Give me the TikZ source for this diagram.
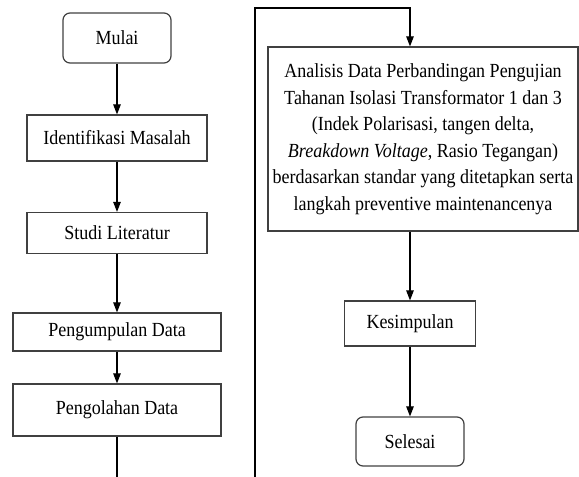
\documentclass[tikz,border=0pt]{standalone}
\usepackage{fontspec}
\setmainfont{Liberation Serif}[FakeStretch=0.9]
\usetikzlibrary{arrows.meta}
\begin{document}
\begin{tikzpicture}[x=1pt,y=1pt,
  box/.style={draw=black!75, line width=1.2pt, minimum width=#1, inner sep=0pt, font=\fontsize{20}{26.5}\selectfont, align=center},
  term/.style={box=#1, rounded corners=7pt},
  conn/.style={line width=1.1pt, -{Triangle[length=10pt,width=7.5pt]}},
  line/.style={line width=1.1pt}]
\useasboundingbox (0,0) rectangle (579,-477);
\node[term=108pt, minimum height=50pt] (mulai) at (117,-38) {Mulai};
\node[box=180pt, minimum height=46pt] (ident) at (117,-138) {Identifikasi Masalah};
\node[box=180pt, minimum height=41pt] (studi) at (117,-233) {Studi Literatur};
\node[box=208pt, minimum height=38pt] (kumpul) at (117,-332) {Pengumpulan Data};
\node[box=208pt, minimum height=52pt] (olah) at (117,-410) {Pengolahan Data};
\node[box=310pt, minimum height=184pt] (analisis) at (423,-139) {Analisis Data Perbandingan Pengujian\\Tahanan Isolasi Transformator 1 dan 3\\(Indek Polarisasi, tangen delta,\\\textit{Breakdown Voltage}, Rasio Tegangan)\\berdasarkan standar yang ditetapkan serta\\langkah preventive maintenancenya};
\node[box=131pt, minimum height=45pt] (kes) at (410,-323.5) {Kesimpulan};
\node[term=108pt, minimum height=49pt] (selesai) at (410,-441.5) {Selesai};
\coordinate (olahend) at (117,-477);
\coordinate (pgstart) at (255,-477);
\coordinate (pgtop) at (255,-8);
\coordinate (pgright) at (410,-8);
\draw[conn] (mulai) -- (ident);
\draw[conn] (ident) -- (studi);
\draw[conn] (studi) -- (kumpul);
\draw[conn] (kumpul) -- (olah);
\draw[line] (olah.south) -- (olahend);
\draw[conn] (pgstart) -- (pgtop) -- (pgright) -- (pgright |- analisis.north);
\draw[conn] (analisis.south -| kes) -- (kes);
\draw[conn] (kes) -- (selesai);
\end{tikzpicture}
\end{document}
